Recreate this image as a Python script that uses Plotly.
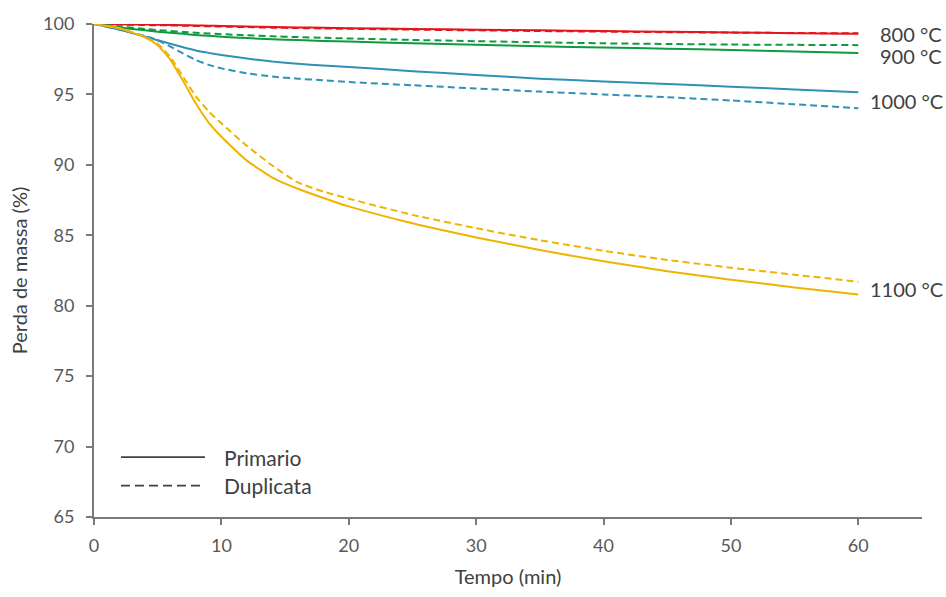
import plotly.graph_objects as go

# Time (min)
tempo = [0, 2, 4, 5, 6, 7, 8, 9, 10, 12, 14, 16, 18, 20, 25, 30, 35, 40, 45, 50, 55, 60]

# Mass retained (%) per calcination temperature: primary run and duplicate
t800_prim = [100, 99.98, 99.96, 99.95, 99.93, 99.92, 99.9, 99.88, 99.86, 99.82, 99.79, 99.76,
             99.73, 99.7, 99.65, 99.6, 99.55, 99.5, 99.45, 99.4, 99.35, 99.3]
t800_dup = [100, 99.96, 99.93, 99.91, 99.9, 99.88, 99.86, 99.84, 99.82, 99.78, 99.74, 99.71,
            99.68, 99.66, 99.6, 99.55, 99.5, 99.46, 99.42, 99.39, 99.36, 99.34]
t900_prim = [100, 99.75, 99.55, 99.45, 99.37, 99.3, 99.22, 99.16, 99.1, 99.0, 98.92, 98.86,
             98.8, 98.75, 98.63, 98.52, 98.42, 98.33, 98.25, 98.15, 98.05, 97.95]
t900_dup = [100, 99.82, 99.65, 99.57, 99.5, 99.44, 99.38, 99.33, 99.28, 99.2, 99.13, 99.07,
            99.02, 98.97, 98.87, 98.78, 98.7, 98.63, 98.58, 98.54, 98.52, 98.5]
t1000_prim = [100, 99.6, 99.1, 98.85, 98.6, 98.35, 98.12, 97.95, 97.8, 97.55, 97.33, 97.17,
              97.05, 96.95, 96.65, 96.38, 96.12, 95.92, 95.74, 95.55, 95.35, 95.15]
t1000_dup = [100, 99.6, 99.15, 98.85, 98.4, 97.9, 97.45, 97.1, 96.85, 96.5, 96.27, 96.12,
             96.0, 95.88, 95.65, 95.42, 95.2, 95.0, 94.8, 94.57, 94.3, 94.02]
t1100_prim = [100, 99.7, 99.05, 98.5, 97.45, 95.95, 94.35, 93.0, 92.0, 90.3, 89.1, 88.3,
              87.65, 87.05, 85.85, 84.85, 83.95, 83.15, 82.45, 81.85, 81.3, 80.8]
t1100_dup = [100, 99.7, 99.08, 98.6, 97.65, 96.25, 94.85, 93.8, 92.95, 91.35, 89.95, 88.75,
             88.1, 87.6, 86.45, 85.5, 84.65, 83.9, 83.25, 82.7, 82.2, 81.7]

y_ticks = [65, 70, 75, 80, 85, 90, 95, 100]
x_ticks = [0, 10, 20, 30, 40, 50, 60]

series = [
    ("800 °C", "#E3151B", t800_prim, t800_dup, 61.57, 99.31),
    ("900 °C", "#0E9A3E", t900_prim, t900_dup, 61.57, 97.7),
    ("1000 °C", "#2F92B5", t1000_prim, t1000_dup, 60.77, 94.5),
    ("1100 °C", "#F0B400", t1100_prim, t1100_dup, 60.77, 81.2),
]

FONT = "Lato"
TEXT = "#404040"

fig = go.Figure()
annotations = []
for name, color, prim, dup, lx, ly in series:
    fig.add_trace(go.Scatter(x=tempo, y=prim, mode="lines", name=name + " Primario",
                             line=dict(color=color, width=2, shape="spline", smoothing=0.5),
                             showlegend=False))
    fig.add_trace(go.Scatter(x=tempo, y=dup, mode="lines", name=name + " Duplicata",
                             line=dict(color=color, width=2, dash="7px,4px", shape="spline", smoothing=0.5),
                             showlegend=False))
    annotations.append(dict(x=lx, y=ly, xref="x", yref="y", text=name, showarrow=False,
                            xanchor="left", yanchor="middle",
                            font=dict(size=20, color=TEXT, family=FONT)))

# Line-style key (Primario / Duplicata)
shapes = [
    dict(type="line", xref="paper", yref="paper", x0=0.0326, x1=0.134, y0=0.1215, y1=0.1215,
         line=dict(color=TEXT, width=1.8)),
    dict(type="line", xref="paper", yref="paper", x0=0.0326, x1=0.134, y0=0.0638, y1=0.0638,
         line=dict(color=TEXT, width=1.8, dash="9px,5px")),
]
annotations += [
    dict(x=0.1546, y=0.1215, xref="paper", yref="paper", text="Primario", showarrow=False,
         xanchor="left", yanchor="middle", font=dict(size=21, color=TEXT, family=FONT)),
    dict(x=0.1546, y=0.0638, xref="paper", yref="paper", text="Duplicata", showarrow=False,
         xanchor="left", yanchor="middle", font=dict(size=21, color=TEXT, family=FONT)),
]

axis_common = dict(showgrid=False, zeroline=False, showline=True, linecolor="#7A7A7A",
                   linewidth=2, ticks="outside", ticklen=6, tickwidth=2, tickcolor="#7A7A7A",
                   tickfont=dict(size=18, color="#595959", family=FONT))

fig.update_layout(
    width=946, height=597,
    margin=dict(l=94, r=24, t=17, b=78),
    paper_bgcolor="white", plot_bgcolor="white",
    font=dict(family=FONT),
    showlegend=False,
    shapes=shapes,
    annotations=annotations,
    xaxis=dict(range=[0, 65], tickvals=x_ticks, ticklabelstandoff=5,
               title=dict(text="Tempo (min)", font=dict(size=20, color=TEXT), standoff=15),
               **axis_common),
    yaxis=dict(range=[65, 100], tickvals=y_ticks, ticklabelstandoff=8,
               title=dict(text="Perda de massa (%)", font=dict(size=20, color=TEXT), standoff=10),
               **axis_common),
)

fig.write_html("out.html")
